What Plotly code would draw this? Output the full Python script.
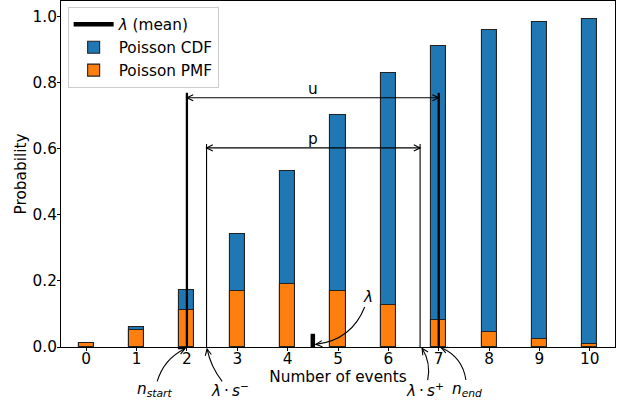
import math
import plotly.graph_objects as go

# ---------------- data ----------------
counts = [0, 1, 2, 3, 4, 5, 6, 7, 8, 9, 10]
pmf = [0.011, 0.050, 0.112, 0.169, 0.190, 0.171, 0.128, 0.082, 0.046, 0.023, 0.010]
cdf = [0.011, 0.061, 0.174, 0.342, 0.532, 0.703, 0.831, 0.913, 0.960, 0.983, 0.993]
tick_labels = [str(c) for c in counts]
y_ticks = [0.0, 0.2, 0.4, 0.6, 0.8, 1.0]

lam_mean = 4.5
mean_marker_height = 0.04
n_start, n_end = 2, 7
lam_s_minus, lam_s_plus = 2.39, 6.63
u_level, n_line_top = 0.755, 0.77
p_level, s_line_top = 0.603, 0.615

# ---------------- geometry ----------------
W, H = 628, 407
ML, MR, MT, MB = 61, 13, 1, 60
PW, PH = W - ML - MR, H - MT - MB
XR = [-0.5, 10.5]
YR = [0.0, 1.048]
FONT = "DejaVu Sans"
FS = 15.3
BLUE, ORANGE = "#1f77b4", "#ff7f0e"


def px(x):
    return ML + (x - XR[0]) / (XR[1] - XR[0]) * PW


def py(y):
    return MT + (YR[1] - y) / (YR[1] - YR[0]) * PH


def paper(xp, yp):
    return (xp - ML) / PW, (H - MB - yp) / PH


def pt(xp, yp):
    a, b = paper(xp, yp)
    return f"{a:.5f},{b:.5f}"


def arrow_shapes(x0, y0, x1, y1, rad=0.0, head=7.0, ang=26):
    """Arrow from (x0,y0) to (x1,y1) in data coords, drawn in paper space."""
    S = (px(x0), py(y0))
    E = (px(x1), py(y1))
    dx, dy = E[0] - S[0], E[1] - S[1]
    M = ((S[0] + E[0]) / 2, (S[1] + E[1]) / 2)
    C = (M[0] + rad * dy, M[1] - rad * dx)
    body = f"M {pt(*S)} Q {pt(*C)} {pt(*E)}"
    tx, ty = E[0] - C[0], E[1] - C[1]
    n = math.hypot(tx, ty)
    tx, ty = tx / n, ty / n
    pts = []
    for s in (1, -1):
        a = math.radians(ang) * s
        rx = tx * math.cos(a) - ty * math.sin(a)
        ry = tx * math.sin(a) + ty * math.cos(a)
        pts.append((E[0] - head * rx, E[1] - head * ry))
    hd = f"M {pt(*pts[0])} L {pt(*E)} L {pt(*pts[1])}"
    st = dict(type="path", xref="paper", yref="paper", line=dict(color="black", width=1.1))
    return [dict(path=body, **st), dict(path=hd, **st)]


fig = go.Figure()

fig.add_trace(go.Bar(x=counts, y=cdf, width=0.3, name="Poisson CDF", legendrank=2,
                     marker=dict(color=BLUE, opacity=1, line=dict(color="#222", width=1.1))))
fig.add_trace(go.Bar(x=counts, y=pmf, width=0.3, name="Poisson PMF", legendrank=3,
                     marker=dict(color=ORANGE, opacity=1, line=dict(color="#222", width=1.1))))

# vertical lines
for xv, top, w in [(n_start, n_line_top, 2.3), (n_end, n_line_top, 2.3),
                   (lam_s_minus, s_line_top, 1.1), (lam_s_plus, s_line_top, 1.1)]:
    fig.add_trace(go.Scatter(x=[xv, xv], y=[0, top], mode="lines", showlegend=False,
                             hoverinfo="skip", line=dict(color="black", width=w)))

fig.add_trace(go.Scatter(x=[lam_mean, lam_mean], y=[0, mean_marker_height], mode="lines",
                         name="<i>λ</i> (mean)", legendrank=1,
                         line=dict(color="black", width=4.5)))

shapes = []
# double-headed straight arrows
for a, b, lev in [(n_start, n_end, u_level), (lam_s_minus, lam_s_plus, p_level)]:
    shapes += arrow_shapes(a, lev, b, lev, 0)
    shapes += arrow_shapes(b, lev, a, lev, 0)[1:]

# curved annotation arrows: (start x, start y, tip x, tip y, rad)
curved = [
    (5.53, 0.121, 4.56, 0.008, 0.3),        # lambda
    (1.41, -0.104, 1.96, -0.005, 0.22),     # n_start
    (2.70, -0.104, 2.40, -0.006, 0.12),     # lambda s-
    (6.78, -0.100, 6.67, -0.004, -0.2),     # lambda s+
    (7.54, -0.100, 7.05, -0.002, -0.28),    # n_end
]
for c in curved:
    shapes += arrow_shapes(*c)

annots = []
annots.append(dict(x=(n_start + n_end) / 2, y=u_level, text="u", yanchor="bottom",
                   showarrow=False, font=dict(size=FS), yshift=-2))
annots.append(dict(x=(lam_s_minus + lam_s_plus) / 2, y=p_level, text="p", yanchor="bottom",
                   showarrow=False, font=dict(size=FS), yshift=-2))
labels = [
    (5.59, 0.152, "<i>λ</i>"),
    (1.35, -0.130, "<i>n</i><sub><i>start</i></sub>"),
    (2.86, -0.130, "<i>λ</i>\u2009·\u2009<i>s</i><sup>−</sup>"),
    (6.72, -0.130, "<i>λ</i>\u2009·\u2009<i>s</i><sup>+</sup>"),
    (7.57, -0.130, "<i>n</i><sub><i>end</i></sub>"),
]
for x, y, t in labels:
    xp, yp = paper(px(x), py(y))
    annots.append(dict(x=xp, y=yp, xref="paper", yref="paper", text=t, showarrow=False,
                       xanchor="center", yanchor="middle", font=dict(size=FS)))

fig.update_layout(
    width=W, height=H,
    margin=dict(l=ML, r=MR, t=MT, b=MB, autoexpand=False),
    paper_bgcolor="white", plot_bgcolor="white",
    font=dict(family=FONT, size=FS, color="black"),
    barmode="overlay", bargap=0,
    showlegend=True,
    legend=dict(x=0.012, y=0.983, xanchor="left", yanchor="top",
                bgcolor="rgba(255,255,255,0.9)", bordercolor="#cccccc", borderwidth=1,
                font=dict(size=FS), itemwidth=40, traceorder="normal"),
    shapes=shapes,
    annotations=annots,
    xaxis=dict(range=XR, tickvals=counts, ticktext=tick_labels, showgrid=False, zeroline=False,
               showline=True, mirror=True, linecolor="black", linewidth=1,
               ticks="outside", ticklen=3, tickwidth=1.1, tickcolor="black",
               ticklabelstandoff=-5,
               title=dict(text="Number of events", standoff=1, font=dict(size=FS))),
    yaxis=dict(range=YR, tickvals=y_ticks, tickformat=".1f", showgrid=False, zeroline=False,
               showline=True, mirror=True, linecolor="black", linewidth=1,
               ticks="outside", ticklen=3, tickwidth=1.1, tickcolor="black",
               ticklabelstandoff=-3,
               title=dict(text="Probability", standoff=2, font=dict(size=FS))),
)

fig.write_html("out.html", config={"displayModeBar": False},
               post_script="document.body.style.margin='0';")
